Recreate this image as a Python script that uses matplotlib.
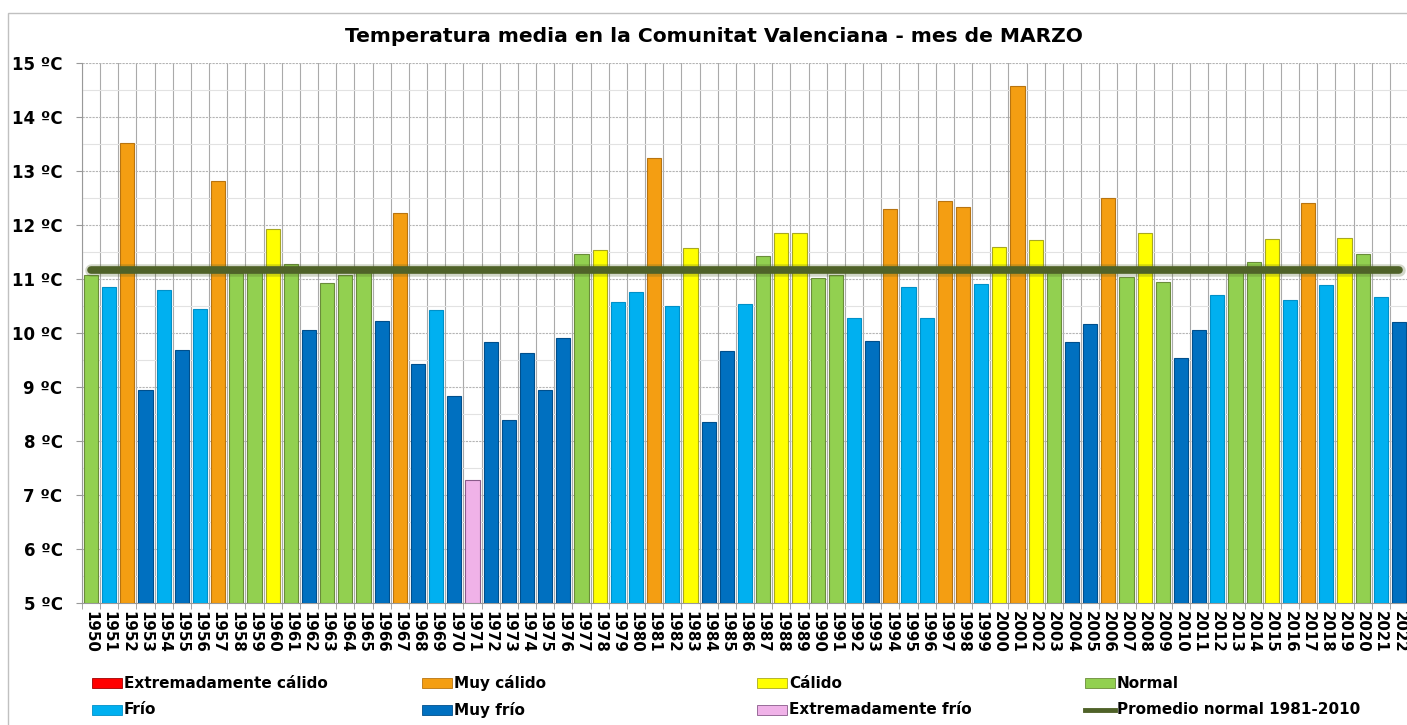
import matplotlib
matplotlib.use("Agg")
import matplotlib.pyplot as plt
from matplotlib.patches import Rectangle
from matplotlib.lines import Line2D
import numpy as np

years = list(range(1950, 2023))
temps = [11.07, 10.85, 13.51, 8.93, 10.80, 9.68, 10.44, 12.81, 11.10, 11.17,
         11.92, 11.27, 10.05, 10.92, 11.07, 11.15, 10.22, 12.22, 9.42, 10.42,
         8.82, 7.27, 9.82, 8.38, 9.63, 8.94, 9.91, 11.45, 11.53, 10.57,
         10.76, 13.23, 10.50, 11.56, 8.35, 9.66, 10.53, 11.42, 11.85, 11.84,
         11.02, 11.07, 10.28, 9.85, 12.30, 10.85, 10.28, 12.43, 12.33, 10.91,
         11.59, 14.56, 11.72, 11.15, 9.82, 10.16, 12.49, 11.04, 11.84, 10.93,
         9.54, 10.05, 10.70, 11.22, 11.31, 11.74, 10.61, 12.41, 10.88, 11.76,
         11.45, 10.67, 10.20]
classes = ["N", "F", "MC", "MF", "F", "MF", "F", "MC", "N", "N",
           "C", "N", "MF", "N", "N", "N", "MF", "MC", "MF", "F",
           "MF", "EF", "MF", "MF", "MF", "MF", "MF", "N", "C", "F",
           "F", "MC", "F", "C", "MF", "MF", "F", "N", "C", "C",
           "N", "N", "F", "MF", "MC", "F", "F", "MC", "MC", "F",
           "C", "MC", "C", "N", "MF", "MF", "MC", "N", "C", "N",
           "MF", "MF", "F", "N", "N", "C", "F", "MC", "F", "C",
           "N", "F", "MF"]
normal_mean = 11.17

class_labels = {"EC": "Extremadamente cálido", "MC": "Muy cálido", "C": "Cálido",
                "N": "Normal", "F": "Frío", "MF": "Muy frío", "EF": "Extremadamente frío"}
fill = {"EC": "#FF0000", "MC": "#F49E12", "C": "#FFFF00", "N": "#92D050",
        "F": "#00B0F0", "MF": "#0070C0", "EF": "#F0B2E8"}
edge = {"EC": "#A00000", "MC": "#B87410", "C": "#A8A820", "N": "#6A8C3A",
        "F": "#0090C8", "MF": "#004F8C", "EF": "#8A5A8A"}
line_color = "#4F6228"

W, H = 1407, 725
fig = plt.figure(figsize=(W / 100, H / 100), dpi=100)
fig.patch.set_facecolor("white")

# frame
fig.add_artist(Rectangle((8 / W, -0.05), 1.1, 1 - 13 / H + 0.05, transform=fig.transFigure,
                         fill=False, edgecolor="#C0C0C0", linewidth=1.0))

ax = fig.add_axes([82 / W, 1 - 602.7 / H, (1408 - 82) / W, (602.7 - 62.7) / H])
ax.set_facecolor("none")
x = np.arange(len(years))
ax.bar(x, [t - 5 for t in temps], bottom=5, width=0.78,
       color=[fill[c] for c in classes], edgecolor=[edge[c] for c in classes],
       linewidth=0.8, zorder=3)

ax.plot(x, [normal_mean] * len(x), color=line_color, linewidth=9, alpha=0.25,
        solid_capstyle="round", zorder=4)
ax.plot(x, [normal_mean] * len(x), color=line_color, linewidth=5.5,
        solid_capstyle="round", zorder=5)

ax.set_xlim(-0.5, len(years) - 0.5)
ax.set_ylim(5, 15)
ax.set_yticks(range(5, 16))
ax.set_yticklabels([f"{v} ºC" for v in range(5, 16)], fontsize=12, fontweight="bold")
ax.set_yticks(np.arange(5.5, 15, 1.0), minor=True)
ax.set_xticks(x)
ax.set_xticklabels([str(y) for y in years], rotation=-90, fontsize=10.8,
                   fontweight="bold", va="top", ha="center")
ax.set_xticks(np.arange(-0.5, len(years), 1.0), minor=True)
ax.tick_params(axis="x", which="major", length=0, pad=6)
ax.tick_params(axis="x", which="minor", length=4, color="#999999")
ax.tick_params(axis="y", which="major", length=4, color="#999999", pad=10)
ax.tick_params(axis="y", which="minor", length=0)

ax.grid(which="major", axis="y", color="#B4B4B4", linestyle=(0, (2, 1)), linewidth=0.8, zorder=0)
ax.grid(which="minor", axis="y", color="#E2E2E2", linestyle="-", linewidth=0.8, zorder=0)
ax.grid(which="minor", axis="x", color="#AAAAAA", linestyle="-", linewidth=0.8, zorder=0)
ax.set_axisbelow(True)
for s in ["top", "right"]:
    ax.spines[s].set_visible(False)
ax.spines["left"].set_color("#999999")
ax.spines["bottom"].set_color("#999999")

fig.text(714 / W, 1 - 36 / H, "Temperatura media en la Comunitat Valenciana - mes de MARZO",
         ha="center", va="center", fontsize=14.6, fontweight="bold")

# legend
legend_items = [("EC", 92, 683), ("MC", 422, 683), ("C", 757, 683), ("N", 1085, 683),
                ("F", 92, 710), ("MF", 422, 710), ("EF", 757, 710)]
for code, px, py in legend_items:
    fig.add_artist(Rectangle((px / W, 1 - (py + 5) / H), 30 / W, 10 / H,
                             transform=fig.transFigure, facecolor=fill[code],
                             edgecolor=edge[code], linewidth=0.6))
    fig.text((px + 32) / W, 1 - py / H, class_labels[code], ha="left", va="center",
             fontsize=11, fontweight="bold")
fig.add_artist(Line2D([1085 / W, 1115 / W], [1 - 710 / H, 1 - 710 / H],
                      transform=fig.transFigure, color=line_color, linewidth=3.5))
fig.text(1117 / W, 1 - 710 / H, "Promedio normal 1981-2010", ha="left", va="center",
         fontsize=11, fontweight="bold")

fig.savefig("out.png", dpi=100)
